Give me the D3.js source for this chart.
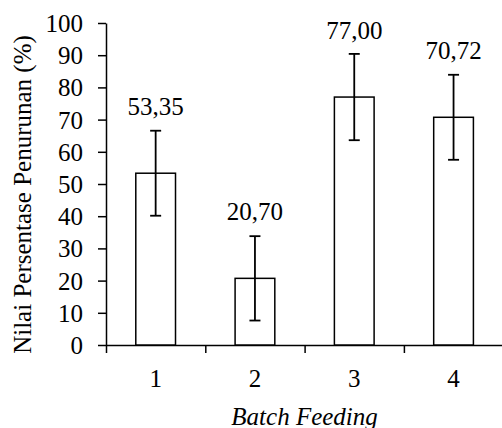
<!DOCTYPE html>
<html>
<head>
<meta charset="utf-8">
<script src="https://cdn.jsdelivr.net/npm/d3@7"></script>
</head>
<body style="margin:0">
<script>
const categories = ["1", "2", "3", "4"];
const values = [53.35, 20.70, 77.00, 70.72];
const errors = [13.2, 13.1, 13.4, 13.2];
const valueLabels = ["53,35", "20,70", "77,00", "70,72"];
const yTicks = [0, 10, 20, 30, 40, 50, 60, 70, 80, 90, 100];
const yTitle = "Nilai Persentase Penurunan (%)";
const xTitle = "Batch Feeding";

const W = 502, H = 428;
const mLeft = 106, mTop = 23, mBottom = 345, mRight = 503.2;
const fs = 25;
const FONT = "Liberation Serif";

const svg = d3.select("body").append("svg").attr("width", W).attr("height", H)
  .attr("font-family", FONT).attr("font-size", fs).style("display", "block");

const x = d3.scaleBand().domain(categories).range([mLeft, mRight]).paddingInner(0.6).paddingOuter(0.3);
const y = d3.scaleLinear().domain([0, 100]).range([mBottom, mTop]);
const xb = d3.scaleLinear().domain([0, categories.length]).range([mLeft, mRight]);

// y axis
const yAxis = svg.append("g").attr("transform", `translate(${mLeft},0)`)
  .call(d3.axisLeft(y).tickValues(yTicks).tickSize(8).tickSizeOuter(0).tickPadding(15).tickFormat(d3.format("d")));
yAxis.attr("font-family", FONT).attr("font-size", fs);
yAxis.select(".domain").attr("stroke", "#000").attr("stroke-width", 1.5);
yAxis.selectAll(".tick line").attr("stroke", "#000").attr("stroke-width", 1.5);
yAxis.selectAll(".tick text").attr("fill", "#000").attr("dy", "0.34em");

// x axis (boundary ticks)
const xAxis = svg.append("g").attr("transform", `translate(0,${mBottom})`)
  .call(d3.axisBottom(xb).tickValues(d3.range(categories.length + 1)).tickSize(8).tickSizeOuter(0).tickFormat(""));
xAxis.select(".domain").attr("stroke", "#000").attr("stroke-width", 1.5);
xAxis.selectAll(".tick line").attr("stroke", "#000").attr("stroke-width", 1.5);

// category labels
svg.selectAll(".cat").data(categories).enter().append("text")
  .attr("x", d => x(d) + x.bandwidth() / 2)
  .attr("y", 387)
  .attr("text-anchor", "middle")
  .text(d => d);

// bars
svg.selectAll(".bar").data(values).enter().append("rect")
  .attr("x", (d, i) => x(categories[i]))
  .attr("y", d => y(d))
  .attr("width", x.bandwidth())
  .attr("height", d => y(0) - y(d))
  .attr("fill", "#fff").attr("stroke", "#000").attr("stroke-width", 1.5);

// error bars
const eb = svg.selectAll(".eb").data(values).enter().append("g");
eb.append("line")
  .attr("x1", (d, i) => x(categories[i]) + x.bandwidth() / 2)
  .attr("x2", (d, i) => x(categories[i]) + x.bandwidth() / 2)
  .attr("y1", (d, i) => y(d + errors[i]))
  .attr("y2", (d, i) => y(d - errors[i]))
  .attr("stroke", "#000").attr("stroke-width", 1.8);
[1, -1].forEach(s => {
  eb.append("line")
    .attr("x1", (d, i) => x(categories[i]) + x.bandwidth() / 2 - 5.5)
    .attr("x2", (d, i) => x(categories[i]) + x.bandwidth() / 2 + 5.5)
    .attr("y1", (d, i) => y(d + s * errors[i]))
    .attr("y2", (d, i) => y(d + s * errors[i]))
    .attr("stroke", "#000").attr("stroke-width", 1.8);
});

// value labels
svg.selectAll(".vl").data(values).enter().append("text")
  .attr("x", (d, i) => x(categories[i]) + x.bandwidth() / 2)
  .attr("y", d => y(d) - 58)
  .attr("text-anchor", "middle")
  .text((d, i) => valueLabels[i]);

// axis titles
svg.append("text")
  .attr("transform", `translate(31,194.5) rotate(-90)`)
  .attr("text-anchor", "middle")
  .text(yTitle);

svg.append("text")
  .attr("x", (mLeft + mRight) / 2)
  .attr("y", 425)
  .attr("text-anchor", "middle")
  .attr("font-style", "italic")
  .text(xTitle);
</script>
</body>
</html>
